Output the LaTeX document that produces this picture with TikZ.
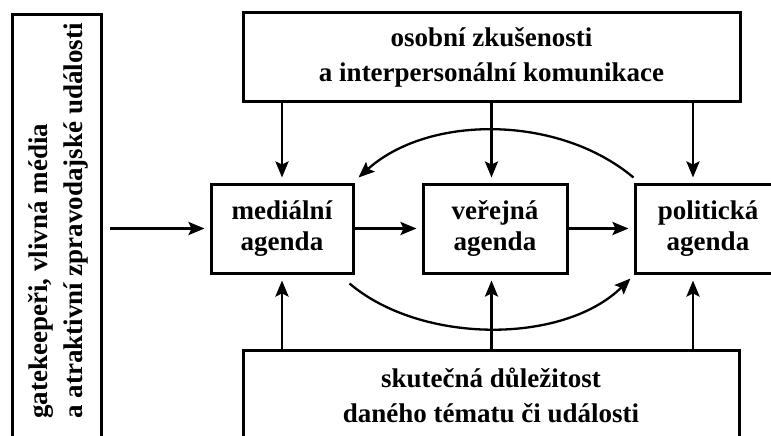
\documentclass[tikz,border=0pt]{standalone}
\usepackage{fontspec}
\setmainfont{Liberation Serif}
\usetikzlibrary{arrows.meta}
\begin{document}
\begin{tikzpicture}[x=1pt,y=-1pt,
  box/.style={draw, line width=3pt, fill=white, inner sep=0pt},
  lbl/.style={font=\fontsize{27}{35}\selectfont\bfseries, align=center},
  lbls/.style={font=\fontsize{27}{31}\selectfont\bfseries, align=center},
  arr/.style={line width=2.7pt, -{Stealth[length=16pt,width=13pt,inset=3pt]}},
  curv/.style={line width=2.3pt, -{Stealth[length=16pt,width=13pt,inset=3pt]}},
]
\clip (0,0) rectangle (771,436);
\fill[white] (0,0) rectangle (771,436);
% left box
\node[box, minimum width=89pt, minimum height=440pt, anchor=north west] (gk) at (11,13) {};
\node[lbl, rotate=90, align=left] (gkt) at (58,221) {gatekeepeři, vlivná média\\a atraktivní zpravodajské události};
% top and bottom boxes
\node[box, lbl, minimum width=497pt, minimum height=88pt] (top) at (491.5,57) {osobní zkušenosti\\a interpersonální komunikace};
\node[box, lbl, minimum width=496pt, minimum height=90pt] (bot) at (491,395) {skutečná důležitost\\daného tématu či události};
% agenda boxes
\node[box, lbls, minimum width=142pt, minimum height=89pt] (med) at (282,228.5) {mediální\\agenda};
\node[box, lbls, minimum width=144pt, minimum height=89pt] (pub) at (495,228.5) {veřejná\\agenda};
\node[box, lbls, minimum width=146pt, minimum height=89pt] (pol) at (708,228.5) {politická\\agenda};
\coordinate (pa) at (693,0);
% horizontal arrows
\draw[arr, shorten <=7pt, shorten >=5pt] (gk.east |- med.west) -- (med.west);
\draw[arr, shorten >=5pt] (med.east) -- (pub.west);
\draw[arr, shorten >=5pt] (pub.east) -- (pol.west);
% down arrows
\draw[arr, shorten >=5pt] (top.south -| med.north) -- (med.north);
\draw[arr, shorten >=5pt] (top.south) -- (top.south |- pub.north);
\draw[arr, shorten >=5pt] (top.south -| pa) -- (pol.north -| pa);
% up arrows
\draw[arr, shorten >=6pt] (bot.north -| med.south) -- (med.south);
\draw[arr, shorten >=6pt] (bot.north -| top.south) -- (top.south |- pub.south);
\draw[arr, shorten >=6pt] (bot.north -| pa) -- (pol.south -| pa);
% curved arrows
\draw[curv] ([shift={(0,-5)}]pol.north west) .. controls +(-75,-63) and +(70,-63) .. ([shift={(4,-5)}]med.north east);
\draw[curv] ([shift={(-5,9)}]med.south east) .. controls +(72,61) and +(-67,66) .. ([shift={(-3,4)}]pol.south west);
\end{tikzpicture}
\end{document}
